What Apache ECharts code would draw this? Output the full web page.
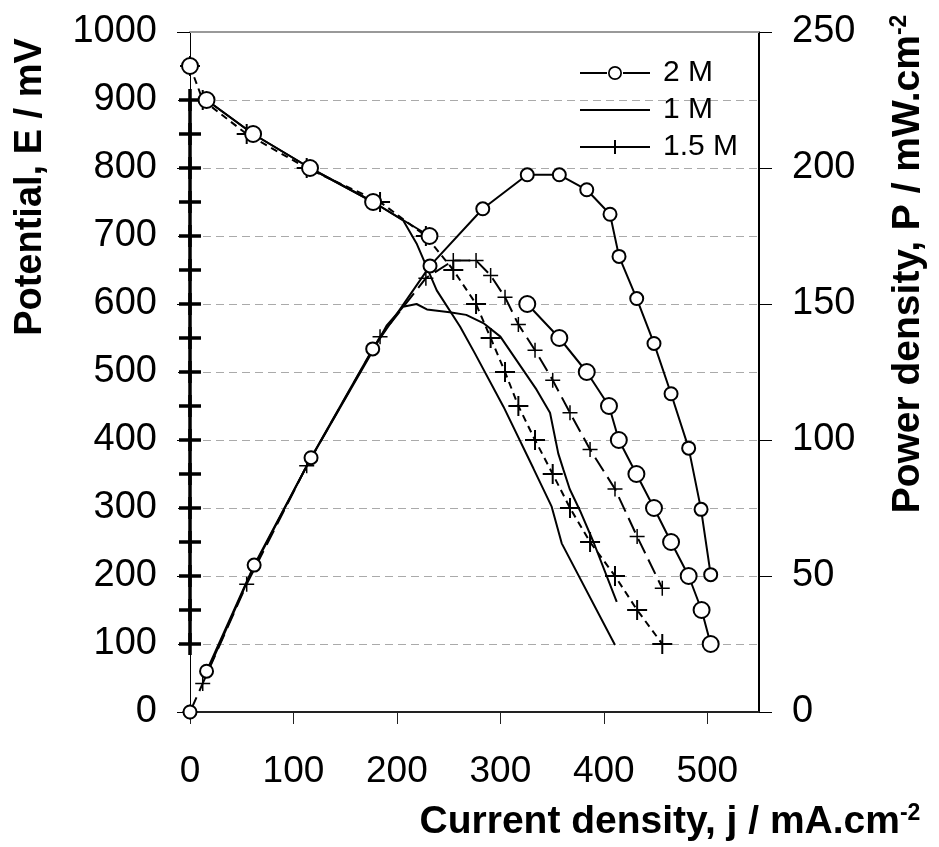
<!DOCTYPE html>
<html><head><meta charset="utf-8">
<script src="https://cdn.jsdelivr.net/npm/echarts@6/dist/echarts.min.js"></script>
<style>html,body{margin:0;padding:0;background:#fff}#c{width:939px;height:847px}</style>
</head><body><div id="c"></div>
<script>
// ---- tick labels ----
const xTicks = [0, 100, 200, 300, 400, 500];
const eTicks = [0, 100, 200, 300, 400, 500, 600, 700, 800, 900, 1000];
const pTicks = [0, 50, 100, 150, 200, 250];

// ---- 2 M (null = break in the drawn line) ----
const j2E = [0, 8, 16, 61, 116, 177, 231.5, 283, 326, 357, 383.5, 405, 414.5, 431.5, 448.5, 465, 482, 494.5, 503.3];
const E2  = [950, null, 900, 850, 800, 750, 700, null, 600, 550, 500, 450, 400, 350, 300, 250, 200, 150, 100];
const j2P = [0, 8, 16, 62, 117, 176.6, 232, 283, 326, 357, 383.5, 406, 414.7, 431.8, 448.5, 465, 482, 494, 503.3];
const P2  = [0, null, 15, 54, 93.5, 133.5, 164, 185, 197.5, 197.5, 192, 183, 167.5, 152, 135.5, 117, 97, 74.5, 50.5];

// ---- 1 M ----
const j1E = [16, 61, 116, 177, 206, 219, 238.5, 261, 275.5, 303, 332, 349.6, 359.3, 410.8];
const E1  = [900, 850, 800, 750, 723, 689, 620, 567, 527, 449, 358, 302, 248, 98.5];
const j1P = [16, 60, 115, 177, 190, 206, 219, 229, 251, 267, 283.5, 300, 335, 348, 356, 361, 367, 377, 390, 412.5];
const P1  = [14, 52, 92, 133, 142, 149, 150, 148, 147, 146, 143, 138, 118.5, 110, 95, 89, 82, 74, 62.5, 40.5];

// ---- 1.5 M ----
const j15 = [0, 12.3, 54.8, 112.8, 183.7, 228, 254.5, 276.5, 290.6, 304.5, 317.4, 333.5, 350.6, 367.3, 386.7, 410.8, 432.2, 456.5];
const E15 = [950, 900, 850, 800, 750, 700, 650, 600, 550, 500, 450, 400, 350, 300, 250, 200, 150, 100];
const P15 = [0, 10.5, 47, 90.5, 138, 159.5, 166, 166, 160.5, 152.5, 142.5, 133, 122, 110, 96.5, 82, 64.5, 45.5];

// ---- marks drawn on the potential axis (j = 0) ----
const axisMarkJ = 0;
const axisMarkE = [100, 150, 200, 250, 300, 350, 400, 450, 500, 550, 600, 650, 700, 750, 800, 850, 900];

const pair = (xs, ys) => xs.map((x, i) => [x, ys[i] == null ? '-' : ys[i]]);

const PLUS = 'path://M-1,-10H1V-1H10V1H1V10H-1V1H-10V-1H-1Z';
const PLUS_THICK = 'path://M-1.6,-10H1.6V-1.6H10V1.6H1.6V10H-1.6V1.6H-10V-1.6H-1.6Z';
const FONT = "'Liberation Sans', Arial, Helvetica, sans-serif";
const plain = v => String(v);

const chart = echarts.init(document.getElementById('c'), null, {renderer: 'canvas'});

const circleStyle = {color: '#fff', borderColor: '#000', borderWidth: 2};
const plusStyle = {color: '#000', borderWidth: 0};

chart.setOption({
  animation: false,
  backgroundColor: '#fff',
  grid: {left: 190, top: 32, width: 569, height: 680, show: false},
  legend: {
    orient: 'vertical', left: 580, top: 57, padding: 0,
    itemWidth: 70, itemHeight: 16, itemGap: 5,
    itemStyle: {color: '#000', borderWidth: 0},
    textStyle: {fontSize: 30, lineHeight: 32, color: '#000', fontFamily: FONT, padding: [0, 0, 0, 8]},
    data: [
      {name: '2 M', icon: 'path://M0,7H27V9H0ZM43,7H70V9H43ZM42,8A7,7 0 1,1 28,8A7,7 0 1,1 42,8ZM40.3,8A5.3,5.3 0 1,0 29.7,8A5.3,5.3 0 1,0 40.3,8Z'},
      {name: '1 M', icon: 'path://M0,7H70V9H0Z'},
      {name: '1.5 M', icon: 'path://M0,7H70V9H0ZM34,1H36V15H34Z'}
    ]
  },
  xAxis: [
    {
      type: 'value', position: 'bottom', min: 0, max: 550, interval: 100,
      axisLine: {show: true, onZero: false, lineStyle: {color: '#222', width: 2}},
      axisTick: {show: true, length: 12, customValues: xTicks, lineStyle: {color: '#222', width: 1}},
      axisLabel: {customValues: xTicks, formatter: plain, fontSize: 37, margin: 41, color: '#000', fontFamily: FONT},
      splitLine: {show: false}
    },
    {
      type: 'value', position: 'top', min: 0, max: 550,
      axisLine: {show: true, onZero: false, lineStyle: {color: '#999', width: 2}},
      axisTick: {show: false}, axisLabel: {show: false}, splitLine: {show: false}
    }
  ],
  yAxis: [
    {
      type: 'value', position: 'left', min: 0, max: 1000, interval: 100,
      axisLine: {show: true, onZero: false, lineStyle: {color: '#000', width: 1}},
      axisTick: {show: true, length: 12, lineStyle: {color: '#000', width: 1}},
      axisLabel: {customValues: eTicks, formatter: plain, fontSize: 38, margin: 33, color: '#000', fontFamily: FONT},
      splitLine: {show: true, lineStyle: {color: '#aaa', width: 1, type: [8, 5]}}
    },
    {
      type: 'value', position: 'right', min: 0, max: 250, interval: 50,
      axisLine: {show: true, onZero: false, lineStyle: {color: '#000', width: 2}},
      axisTick: {show: true, length: 13, lineStyle: {color: '#000', width: 1}},
      axisLabel: {customValues: pTicks, formatter: plain, fontSize: 38, margin: 33, color: '#000', fontFamily: FONT},
      splitLine: {show: false}
    },
    {
      type: 'value', position: 'right', min: 0, max: 250, interval: 50,
      axisLine: {show: false},
      axisTick: {show: true, inside: true, length: 13, lineStyle: {color: '#000', width: 1}},
      axisLabel: {show: false}, splitLine: {show: false}
    }
  ],
  graphic: [
    {type: 'text', x: 31, y: 187, rotation: Math.PI / 2,
     style: {text: 'Potential, E / mV', font: "bold 38px " + FONT, fill: '#000', align: 'center', verticalAlign: 'middle'}},
    {type: 'text', x: 908, y: 264, rotation: Math.PI / 2,
     style: {text: 'Power density, P / mW.cm{s|-2}', font: "bold 39px " + FONT, fill: '#000', align: 'center', verticalAlign: 'middle',
             rich: {s: {font: "bold 23px " + FONT, fill: '#000', verticalAlign: 'top', padding: [0, 0, 14, 0]}}}},
    {type: 'text', x: 670, y: 822,
     style: {text: 'Current density, j / mA.cm{s|-2}', font: "bold 39px " + FONT, fill: '#000', align: 'center', verticalAlign: 'middle',
             rich: {s: {font: "bold 23px " + FONT, fill: '#000', verticalAlign: 'top', padding: [0, 0, 14, 0]}}}}
  ],
  series: [
    {name: 'axis marks', type: 'line', xAxisIndex: 0, yAxisIndex: 0, z: 3,
     data: axisMarkE.map(v => [axisMarkJ, v]),
     symbol: PLUS_THICK, symbolSize: 22, itemStyle: plusStyle,
     lineStyle: {color: '#000', width: 3.5}},
    {name: '1 M', type: 'line', yAxisIndex: 0, data: pair(j1E, E1), symbol: 'none',
     lineStyle: {color: '#000', width: 2}, itemStyle: {color: '#000'}},
    {name: '1 M', type: 'line', yAxisIndex: 1, data: pair(j1P, P1), symbol: 'none',
     lineStyle: {color: '#000', width: 2}, itemStyle: {color: '#000'}},
    {name: '1.5 M', type: 'line', yAxisIndex: 0, data: pair(j15, E15), symbol: PLUS, symbolSize: 20,
     itemStyle: plusStyle, lineStyle: {color: '#000', width: 2, type: [7, 5]}},
    {name: '1.5 M', type: 'line', yAxisIndex: 1, data: pair(j15, P15), symbol: PLUS, symbolSize: 15,
     itemStyle: plusStyle, lineStyle: {color: '#000', width: 2, type: [16, 7]}},
    {name: '2 M', type: 'line', yAxisIndex: 0, data: pair(j2E, E2), symbol: 'circle', symbolSize: 16, z: 5,
     itemStyle: circleStyle, lineStyle: {color: '#000', width: 2}},
    {name: '2 M', type: 'line', yAxisIndex: 1, data: pair(j2P, P2), symbol: 'circle', symbolSize: 13, z: 5,
     itemStyle: circleStyle, lineStyle: {color: '#000', width: 2}}
  ]
});
</script></body></html>
